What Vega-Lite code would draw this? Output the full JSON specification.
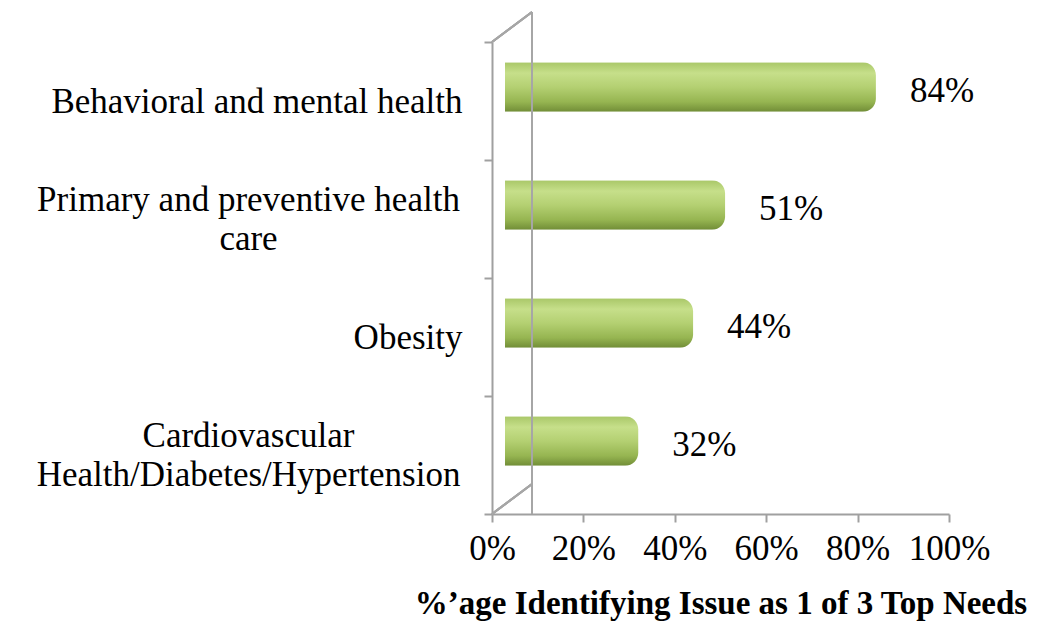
{
  "$schema": "https://vega.github.io/schema/vega-lite/v6.json",
  "width": 457,
  "height": 472,
  "autosize": "none",
  "padding": {"left": 492, "top": 42, "right": 99, "bottom": 108},
  "background": "white",
  "config": {"view": {"stroke": null}, "font": "Liberation Serif"},
  "data": {"values": [
    {"issue": "Behavioral and mental health", "pct": 0.84},
    {"issue": "Primary and preventive health care", "pct": 0.51},
    {"issue": "Obesity", "pct": 0.44},
    {"issue": "Cardiovascular Health/Diabetes/Hypertension", "pct": 0.32}
  ]},
  "layer": [
    {
      "mark": {"type": "bar", "height": {"band": 0.42}, "cornerRadius": 13, "xOffset": 13, "yOffset": -14,
        "color": {"gradient": "linear", "x1": 0, "y1": 0, "x2": 0, "y2": 1, "stops": [
          {"offset": 0, "color": "#a9c768"},
          {"offset": 0.22, "color": "#c6df8a"},
          {"offset": 0.5, "color": "#b4d072"},
          {"offset": 0.8, "color": "#96b551"},
          {"offset": 1, "color": "#718d37"}
        ]}},
      "encoding": {
        "x": {"field": "pct", "type": "quantitative", "scale": {"domain": [0, 1]},
          "axis": {"values": [0, 0.2, 0.4, 0.6, 0.8, 1], "format": ".0%", "grid": false,
            "labelOverlap": false, "labelFlush": false,
            "domainColor": "#a0a0a0", "domainWidth": 2, "tickColor": "#a0a0a0", "tickWidth": 2, "tickSize": 8,
            "labelFont": "Liberation Serif", "labelFontSize": 35, "labelColor": "black", "labelPadding": 9,
            "title": "%’age Identifying Issue as 1 of 3 Top Needs", "titleFont": "Liberation Serif",
            "titleFontSize": 33, "titleFontWeight": "bold", "titleColor": "black", "titlePadding": 21}},
        "y": {"field": "issue", "type": "nominal", "sort": null, "scale": {"paddingInner": 0, "paddingOuter": 0},
          "axis": {"title": null, "tickBand": "extent", "domainColor": "#a0a0a0", "domainWidth": 2,
            "tickColor": "#a0a0a0", "tickWidth": 2, "tickSize": 8, "labelFont": "Liberation Serif",
            "labelFontSize": 35, "labelColor": "black", "labelLimit": 0, "labelLineHeight": 39,
            "labelAlign": {"condition": {"test": "datum.value == 'Primary and preventive health care' || datum.value == 'Cardiovascular Health/Diabetes/Hypertension'", "value": "center"}, "value": "right"},
            "labelPadding": {"condition": {"test": "datum.value == 'Primary and preventive health care' || datum.value == 'Cardiovascular Health/Diabetes/Hypertension'", "value": 236}, "value": 22},
            "labelOffset": {"condition": {"test": "datum.value == 'Primary and preventive health care' || datum.value == 'Cardiovascular Health/Diabetes/Hypertension'", "value": -20}, "value": 0},
            "labelExpr": "datum.value == 'Primary and preventive health care' ? ['Primary and preventive health', 'care'] : datum.value == 'Cardiovascular Health/Diabetes/Hypertension' ? ['Cardiovascular', 'Health/Diabetes/Hypertension'] : datum.value"}}
      }
    },
    {
      "mark": {"type": "rule", "color": "#a6a6a6", "strokeWidth": 2, "xOffset": 40, "yOffset": -30, "y2Offset": -30},
      "encoding": {
        "x": {"datum": 0, "type": "quantitative"}
      }
    },
    {
      "mark": {"type": "rule", "color": "#a6a6a6", "strokeWidth": 2, "x2Offset": 40, "y2Offset": -89},
      "encoding": {
        "x": {"datum": 0, "type": "quantitative"},
        "x2": {"datum": 0},
        "y": {"datum": "Behavioral and mental health", "type": "nominal", "bandPosition": 0},
        "y2": {"datum": "Behavioral and mental health"}
      }
    },
    {
      "mark": {"type": "rule", "color": "#a6a6a6", "strokeWidth": 2, "x2Offset": 40, "y2Offset": 29},
      "encoding": {
        "x": {"datum": 0, "type": "quantitative"},
        "x2": {"datum": 0},
        "y": {"datum": "Cardiovascular Health/Diabetes/Hypertension", "type": "nominal", "bandPosition": 1},
        "y2": {"datum": "Cardiovascular Health/Diabetes/Hypertension"}
      }
    },
    {
      "mark": {"type": "text", "align": "left", "baseline": "middle", "dx": 34, "dy": -10, "fontSize": 35, "font": "Liberation Serif", "color": "black"},
      "encoding": {
        "x": {"field": "pct", "type": "quantitative"},
        "y": {"field": "issue", "type": "nominal", "sort": null},
        "text": {"field": "pct", "type": "quantitative", "format": ".0%"}
      }
    }
  ]
}
